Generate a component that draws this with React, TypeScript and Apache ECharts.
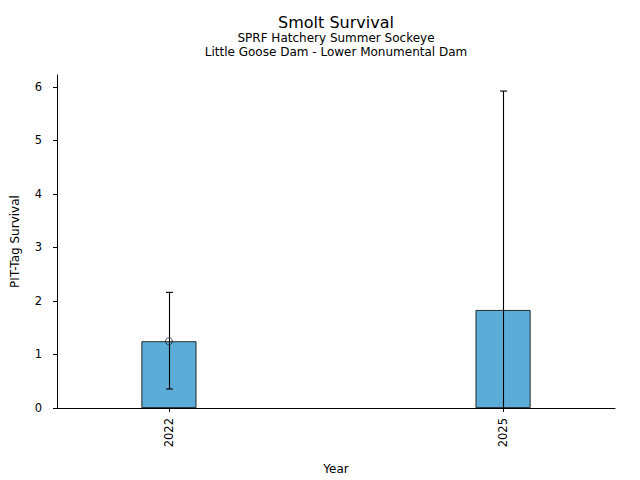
import React, { useEffect, useRef } from "react";
import * as echarts from "echarts";

const years = ["2022", "2025"];
const survival = [1.246, 1.83];
const lowerCI = [0.355, -2.26];
const upperCI = [2.16, 5.92];
const markerYears = ["2022"];
const yTicks = [0, 1, 2, 3, 4, 5, 6];

const FONT = "DejaVu Sans";

export default function App() {
  const ref = useRef<HTMLDivElement>(null);
  useEffect(() => {
    document.body.style.margin = "0";
    const chart = echarts.init(ref.current!, null, { renderer: "svg" });
    const yMin = 0;
    const yMax = 6.22;
    const idx = years.map((_, i) => i);
    chart.setOption({
      animation: false,
      backgroundColor: "#fff",
      textStyle: { fontFamily: FONT, color: "#000" },
      title: [
        {
          text: "Smolt Survival",
          left: 331,
          top: 9,
          textAlign: "center",
          textStyle: { fontFamily: FONT, fontSize: 16, fontWeight: "normal", color: "#000" },
        },
        {
          text: "SPRF Hatchery Summer Sockeye\nLittle Goose Dam - Lower Monumental Dam",
          left: 331,
          top: 26,
          textAlign: "center",
          textStyle: { fontFamily: FONT, fontSize: 12, fontWeight: "normal", color: "#000", lineHeight: 14 },
        },
      ],
      grid: { left: 57, right: 25, top: 75, bottom: 72, containLabel: false, outerBoundsMode: "none" },
      xAxis: {
        type: "value",
        min: -0.335,
        max: 1.335,
        name: "Year",
        nameLocation: "middle",
        nameGap: 55,
        nameTextStyle: { fontFamily: FONT, fontSize: 12, color: "#000" },
        splitLine: { show: false },
        axisLine: { show: true, onZero: false, lineStyle: { color: "#000", width: 1 } },
        axisTick: { show: true, length: 4, customValues: idx, lineStyle: { color: "#000" } },
        axisLabel: {
          customValues: idx,
          rotate: 90,
          margin: 10,
          fontFamily: FONT,
          fontSize: 11.5,
          color: "#000",
          formatter: (v: number) => years[Math.round(v)] ?? "",
        },
      },
      yAxis: {
        type: "value",
        min: yMin,
        max: yMax,
        interval: 1,
        name: "PIT-Tag Survival",
        nameLocation: "middle",
        nameGap: 36,
        nameTextStyle: { fontFamily: FONT, fontSize: 12, color: "#000" },
        splitLine: { show: false },
        axisLine: { show: true, onZero: false, lineStyle: { color: "#000", width: 1 } },
        axisTick: { show: true, length: 4, customValues: yTicks, lineStyle: { color: "#000" } },
        axisLabel: {
          customValues: yTicks,
          margin: 15,
          fontFamily: FONT,
          fontSize: 11.5,
          color: "#000",
        },
      },
      series: [
        {
          type: "bar",
          barWidth: 55,
          data: survival.map((v, i) => [i, v]),
          itemStyle: { color: "#5BACD6", borderColor: "#000", borderWidth: 0.8 },
          z: 2,
        },
        {
          type: "custom",
          z: 5,
          clip: true,
          data: years.map((_, i) => [i, lowerCI[i], upperCI[i]]),
          renderItem: (params: any, api: any) => {
            const x = api.value(0);
            const lo = api.value(1);
            const hi = api.value(2);
            const loC = Math.max(lo, yMin);
            const pHi = api.coord([x, hi]);
            const pLo = api.coord([x, loC]);
            const cx = Math.round(pHi[0]) + 0.5;
            const cap = 3.5;
            const st = { stroke: "#000", lineWidth: 1.1 };
            const children: any[] = [
              { type: "line", shape: { x1: cx, y1: pHi[1], x2: cx, y2: pLo[1] }, style: st },
              { type: "line", shape: { x1: cx - cap, y1: pHi[1], x2: cx + cap, y2: pHi[1] }, style: st },
            ];
            if (lo >= yMin) {
              children.push({ type: "line", shape: { x1: cx - cap, y1: pLo[1], x2: cx + cap, y2: pLo[1] }, style: st });
            }
            return { type: "group", children };
          },
        },
        {
          type: "scatter",
          z: 6,
          symbol: "circle",
          symbolSize: 7,
          itemStyle: { color: "rgba(0,0,0,0)", borderColor: "#222", borderWidth: 1 },
          data: markerYears.map((y) => {
            const i = years.indexOf(y);
            return [i, survival[i]];
          }),
        },
      ],
    });
    return () => chart.dispose();
  }, []);
  return <div ref={ref} style={{ width: 640, height: 480 }} />;
}
